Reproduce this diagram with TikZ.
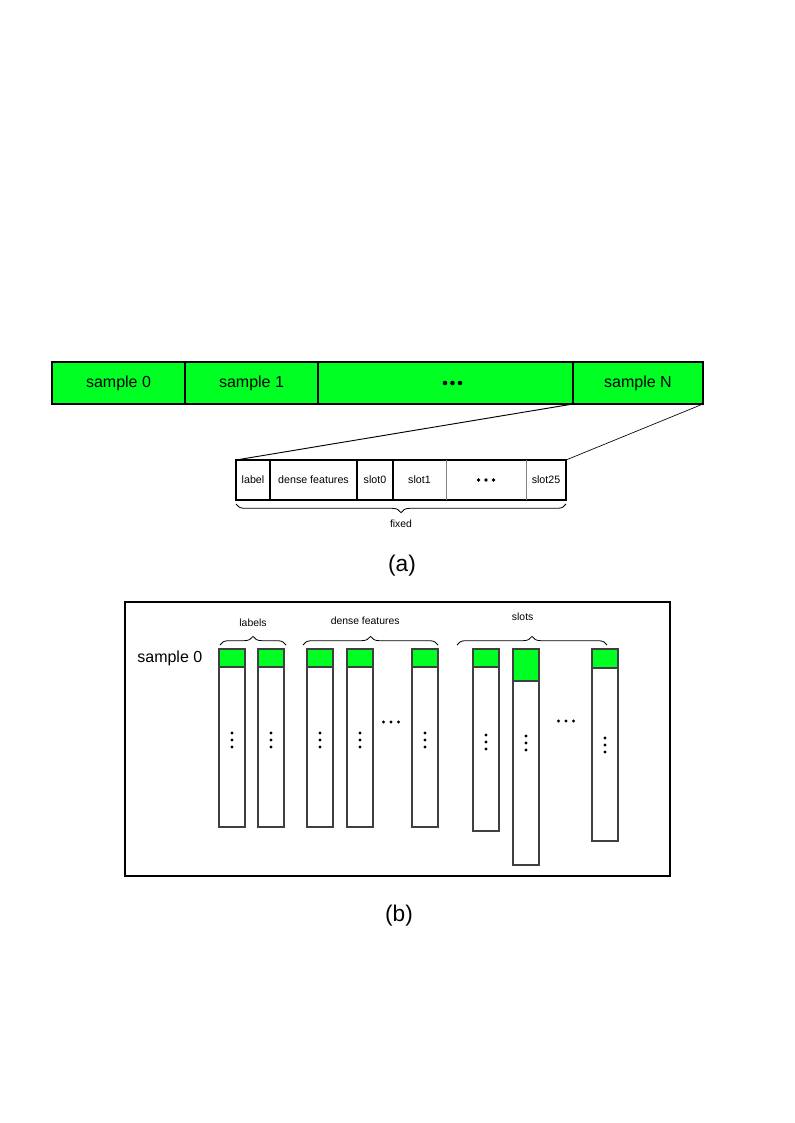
\documentclass[tikz,border=0pt]{standalone}
\usepackage{fontspec}
\setmainfont{Liberation Sans}
\usetikzlibrary{positioning, calc, decorations.pathreplacing}
\definecolor{samplegreen}{RGB}{0,255,34}
\tikzset{
  samplecell/.style={rectangle, draw=black, line width=0.8pt, fill=samplegreen,
                     inner sep=0pt, outer sep=0pt, minimum height=31.5pt,
                     font=\fontsize{12}{14}\selectfont},
  fieldcell/.style={rectangle, inner sep=0pt, outer sep=0pt, minimum height=30pt,
                    font=\fontsize{8}{10}\selectfont},
  colbody/.style={rectangle, draw=black!75, line width=0.8pt, fill=white,
                  inner sep=0pt, outer sep=0pt, minimum width=19.5pt, anchor=north west},
  colhead/.style={colbody, fill=samplegreen},
  bracelabel/.style={font=\fontsize{7.8}{9}\selectfont},
  curly/.style={decorate, decoration={brace, amplitude=6.5pt}, line width=0.6pt},
  caption/.style={font=\fontsize{17}{20}\selectfont},
}
% three dots in a row round a point: point, spacing, radius
\newcommand{\dotrow}[3]{%
  \foreach \k in {-1,0,1} \fill ($(#1)+(\k*#2,0)$) circle (#3);}

\begin{document}
\begin{tikzpicture}[x=0.75pt, y=-0.75pt]
  \useasboundingbox (0,0) rectangle (794,1123);

  % --- (a) sample stream ---
  \node[samplecell, minimum width=99.75pt, anchor=north west] (s0) at (52,362) {sample 0};
  \node[samplecell, minimum width=99.75pt, right=0pt of s0] (s1) {sample 1};
  \node[samplecell, minimum width=191.25pt, right=0pt of s1] (sdots) {};
  \node[samplecell, minimum width=97.5pt, line width=1.3pt, right=0pt of sdots] (sN) {sample N};
  \coordinate (sdotsmid) at ($(sdots.center)+(7,0)$);
  \dotrow{sdotsmid}{7.5}{2.3}

  % --- one sample record ---
  \node[fieldcell, minimum width=25.5pt, anchor=north west] (flabel) at (236,460) {label};
  \node[fieldcell, minimum width=65.25pt, right=0pt of flabel] (fdense) {dense features};
  \node[fieldcell, minimum width=27pt, right=0pt of fdense] (fslot0) {slot0};
  \node[fieldcell, minimum width=39.75pt, right=0pt of fslot0] (fslot1) {slot1};
  \node[fieldcell, minimum width=60pt, right=0pt of fslot1] (fdots) {};
  \node[fieldcell, minimum width=30pt, right=0pt of fdots] (fslot25) {slot25};
  \draw[line width=1.1pt] (flabel.north west) rectangle (fslot25.south east);
  \foreach \c in {flabel, fdense, fslot0}
    \draw[line width=0.9pt] (\c.north east) -- (\c.south east);
  \foreach \c in {fslot1, fdots}
    \draw[gray, line width=0.6pt] (\c.north east) -- (\c.south east);
  \dotrow{fdots.center}{7.5}{1.8}

  \draw[line width=0.7pt] (sN.south west) -- (flabel.north west);
  \draw[line width=0.5pt] (sN.south east) -- (fslot25.north east);

  \draw[curly, decoration={mirror}] ([yshift=-3pt]flabel.south west) -- ([yshift=-3pt]fslot25.south east)
    node[midway, below=8pt, bracelabel] (fixedlbl) {fixed};

  \node[caption] (capa) at (402,566) {(a)};

  % --- (b) columnar layout ---
  \draw[line width=0.8pt] (125,602) rectangle (670,876);

  \foreach \n/\x/\b/\g/\d in {1/219/827/667/740, 2/258/827/667/740, 3/307/827/667/740,
      4/347/827/667/740, 5/412/827/667/740, 6/473/831/667/742, 7/513/865/681/743,
      8/592/841/668/745}{
    \node[colbody, minimum height={(\b-649)*0.75pt}] (c\n) at (\x,649) {};
    \node[colhead, minimum height={(\g-649)*0.75pt}] (h\n) at (\x,649) {};
    \foreach \k in {-1,0,1} \fill (\x+13,\d+\k*7) circle (1.7);
  }
  \dotrow{391,722}{7.5}{1.7}
  \dotrow{566,721}{7.5}{1.7}

  \node[left=9pt of h1, font=\fontsize{12}{14}\selectfont] (s0b) {sample 0};

  \draw[curly] ($(c1.north west)+(1,-4)$) -- ($(c2.north east)+(2,-4)$)
    node[midway, above=10pt, bracelabel] (lbllabels) {labels};
  \draw[curly] ($(c3.north west)+(-4,-4)$) -- ($(c5.north east)+(0,-4)$)
    node[midway, above=12pt, xshift=-4pt, bracelabel] (lbldense) {dense features};
  \draw[curly] ($(c6.north west)+(-16,-4)$) -- ($(c8.north east)+(-11,-4)$)
    node[midway, above=15pt, xshift=-7pt, bracelabel] (lblslots) {slots};

  \node[caption] (capb) at (399,916) {(b)};
\end{tikzpicture}
\end{document}
